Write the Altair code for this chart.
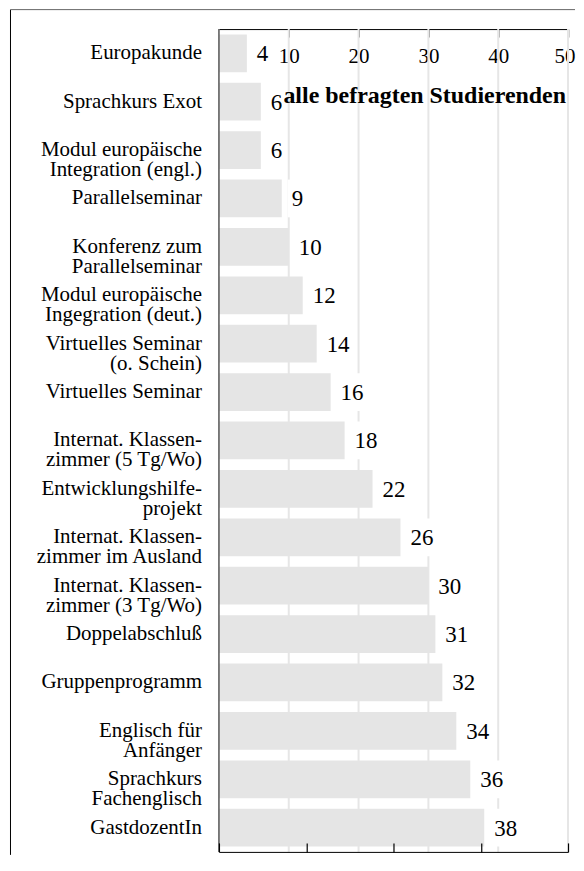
import altair as alt
import pandas as pd

FONT = "Liberation Serif"

categories = [
    "Europakunde",
    "Sprachkurs Exot",
    "Modul europäische|Integration (engl.)",
    "Parallelseminar",
    "Konferenz zum|Parallelseminar",
    "Modul europäische|Ingegration (deut.)",
    "Virtuelles Seminar|(o. Schein)",
    "Virtuelles Seminar",
    "Internat. Klassen-|zimmer (5 Tg/Wo)",
    "Entwicklungshilfe-|projekt",
    "Internat. Klassen-|zimmer im Ausland",
    "Internat. Klassen-|zimmer (3 Tg/Wo)",
    "Doppelabschluß",
    "Gruppenprogramm",
    "Englisch für|Anfänger",
    "Sprachkurs|Fachenglisch",
    "GastdozentIn",
]
values = [4, 6, 6, 9, 10, 12, 14, 16, 18, 22, 26, 30, 31, 32, 34, 36, 38]
top_ticks = [10, 20, 30, 40, 50]
bottom_ticks = [0, 12.5, 25, 37.5, 50]
grid_values = [10, 20, 30, 40, 50]
title_text = "alle befragten Studierenden"
title_row = "Sprachkurs Exot"

W, H = 350, 825

df = pd.DataFrame({"cat": categories, "value": values})
grid_df = pd.DataFrame({"g": grid_values})
title_df = pd.DataFrame({"x": [50], "cat": [title_row], "t": [title_text]})
one = pd.DataFrame({"k": [0]})

xscale = alt.Scale(domain=[0, 50], nice=False, zero=True)
yscale = alt.Scale(domain=categories, paddingInner=0.22, paddingOuter=0.11)

top_axis = alt.Axis(orient="bottom", offset=-H, values=top_ticks, tickSize=8,
                    tickColor="#555", tickWidth=1.5, domainColor="black",
                    domainWidth=1, labelFont=FONT, labelFontSize=21,
                    labelColor="black", labelPadding=9, labelFlush=1,
                    labelFlushOffset=7, labelOverlap=False, grid=False,
                    title=None)
bottom_axis = alt.Axis(orient="top", offset=-H, values=bottom_ticks, tickSize=9,
                       tickColor="black", tickWidth=1.2, domainColor="black",
                       domainWidth=1, labels=False, grid=False, title=None,
                       zindex=1)

frame_left = alt.Chart(one).mark_rule(color="black", strokeWidth=1).encode(
    x=alt.value(-209), y=alt.value(-19.5), y2=alt.value(H + 3))
frame_top = alt.Chart(one).mark_rule(color="#666", strokeWidth=1).encode(
    x=alt.value(-209), x2=alt.value(357), y=alt.value(-19.5))

grid = alt.Chart(grid_df).mark_rule(color="#e6e6e6", strokeWidth=2).encode(
    x=alt.X("g:Q", scale=xscale, axis=bottom_axis))

bars = alt.Chart(df).mark_bar(color="#e5e5e5").encode(
    x=alt.X("value:Q", scale=xscale, axis=top_axis),
    y=alt.Y("cat:N", scale=yscale, axis=None))

y_domain = alt.Chart(one).mark_rule(color="#555", strokeWidth=1.5).encode(
    x=alt.value(0), y=alt.value(0), y2=alt.value(H))

cat_labels = alt.Chart(df).mark_text(font=FONT, fontSize=21, align="right",
                                     baseline="middle", lineBreak="|",
                                     lineHeight=20, color="black").encode(
    x=alt.value(-17),
    y=alt.Y("cat:N", scale=yscale, axis=None),
    text="cat:N")

boxes = alt.Chart(df).transform_calculate(
    bx="datum.value + 6/7",
    bx2="datum.value + (13 + 11.5*length(toString(datum.value)))/7",
).mark_bar(color="white").encode(
    x=alt.X("bx:Q", scale=xscale, axis=None),
    x2="bx2:Q",
    y=alt.Y("cat:N", scale=yscale, axis=None))

labels = alt.Chart(df).mark_text(font=FONT, fontSize=23, align="left",
                                 baseline="middle", dx=10, dy=1,
                                 color="black").encode(
    x=alt.X("value:Q", scale=xscale, axis=None),
    y=alt.Y("cat:N", scale=yscale, axis=None),
    text="value:Q")

title = alt.Chart(title_df).mark_text(font=FONT, fontSize=24, fontWeight="bold",
                                      align="right", baseline="alphabetic",
                                      dx=-2, dy=1, color="black").encode(
    x=alt.X("x:Q", scale=xscale, axis=None),
    y=alt.Y("cat:N", scale=yscale, axis=None),
    text="t:N")

chart = alt.layer(frame_left, frame_top, grid, bars, boxes, labels, title,
                  cat_labels, y_domain).resolve_axis(
    x="independent").properties(
    width=W, height=H,
    padding={"left": 1.5, "top": 0, "right": 0, "bottom": 0},
    background="white",
).configure_view(stroke=None)

chart.save("out.html", embed_options={"renderer": "svg", "actions": False})
